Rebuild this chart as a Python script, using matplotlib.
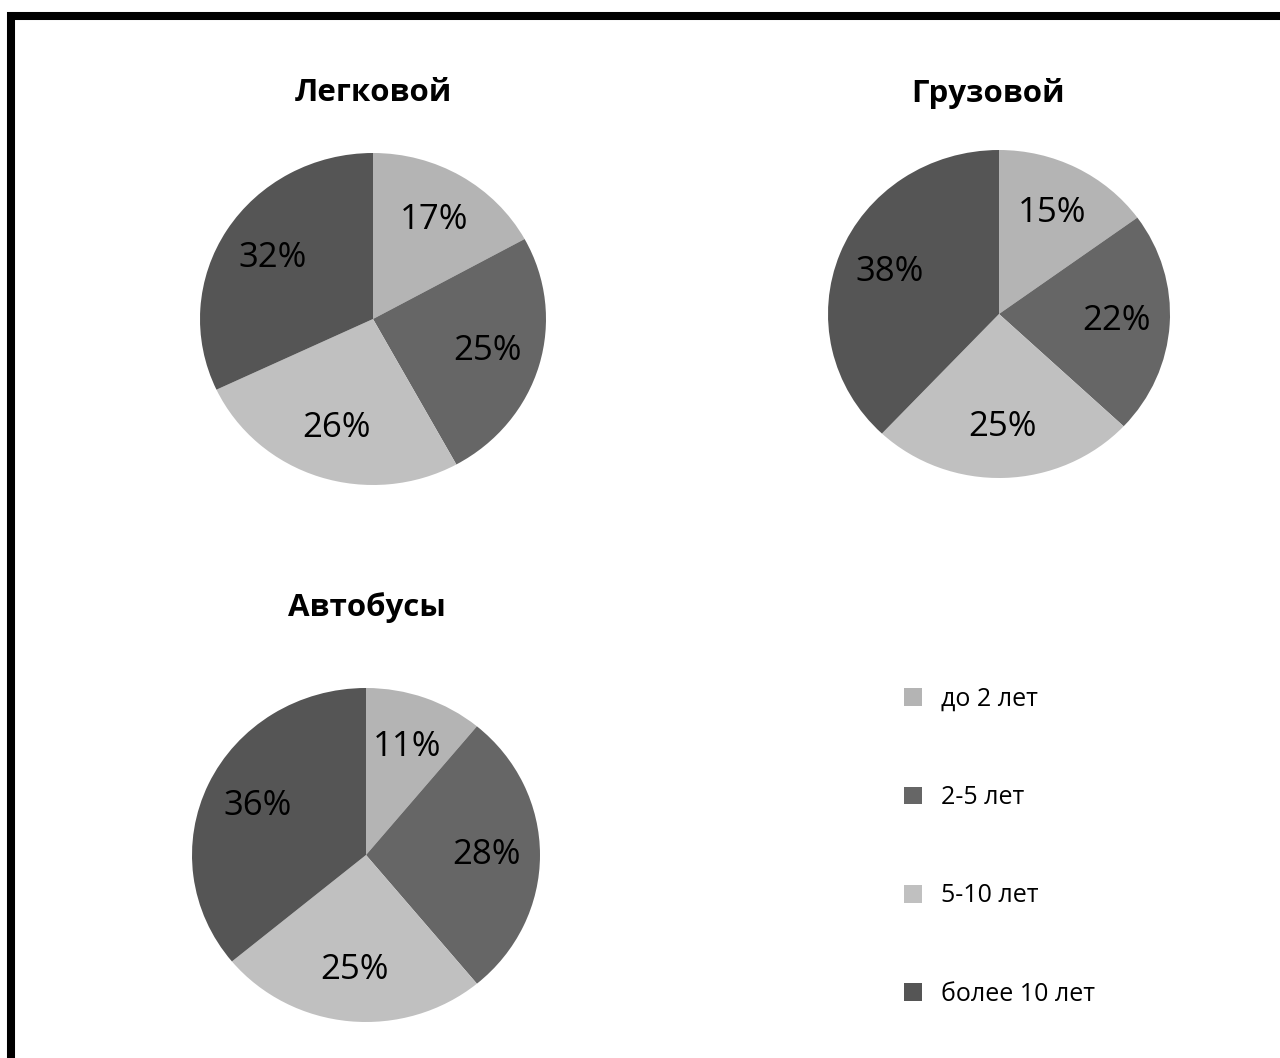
import matplotlib
matplotlib.use("Agg")
import matplotlib.pyplot as plt
from matplotlib.lines import Line2D

plt.rcParams['font.family'] = ['Open Sans', 'DejaVu Sans']

# age groups of vehicles
categories = ['до 2 лет', '2-5 лет', '5-10 лет', 'более 10 лет']
cars = [17, 25, 26, 32]
trucks = [15, 22, 25, 38]
buses = [11, 28, 25, 36]
titles = ['Легковой', 'Грузовой', 'Автобусы']

colors = ['#b4b4b4', '#666666', '#c0c0c0', '#555555']

W, H = 1280, 1058
fig = plt.figure(figsize=(W / 100, H / 100), dpi=100)
fig.patch.set_facecolor('white')

# black frame on the top and left edges only
fig.add_artist(Line2D([7 / W, 1], [1 - 16 / H, 1 - 16 / H], color='black', lw=5.8,
                      solid_capstyle='butt', transform=fig.transFigure))
fig.add_artist(Line2D([11 / W, 11 / W], [0, 1 - 12 / H], color='black', lw=5.8,
                      solid_capstyle='butt', transform=fig.transFigure))


def add_pie(values, title, cx, cy, rx, ry, tx, ty):
    # pie stretched a little, like the original picture
    ax = fig.add_axes([(cx - rx) / W, (H - cy - ry) / H, 2 * rx / W, 2 * ry / H])
    wedges, _, autotexts = ax.pie(values, colors=colors, startangle=90, counterclock=False,
                                  autopct='%d%%', pctdistance=0.69,
                                  wedgeprops=dict(linewidth=0),
                                  textprops=dict(fontsize=25, color='black'))
    ax.set_aspect('auto')
    ax.set_xlim(-1, 1)
    ax.set_ylim(-1, 1)
    fig.text(tx / W, 1 - ty / H, title, ha='center', va='center',
             fontsize=22.5, fontweight='bold')
    return wedges


wedges = add_pie(cars, titles[0], 373, 319, 173, 166, 373, 93)
add_pie(trucks, titles[1], 999, 314, 171, 164, 988, 93)
add_pie(buses, titles[2], 366, 855, 174, 167, 367, 608)

fig.legend(wedges, categories, loc='upper left', frameon=False,
           bbox_to_anchor=(904 / W, 1 - 687 / H), borderaxespad=0, borderpad=0,
           fontsize=18, labelspacing=2.93, handlelength=0.72, handleheight=0.72,
           handletextpad=0.76)

fig.savefig('out.png', dpi=100, facecolor='white')
